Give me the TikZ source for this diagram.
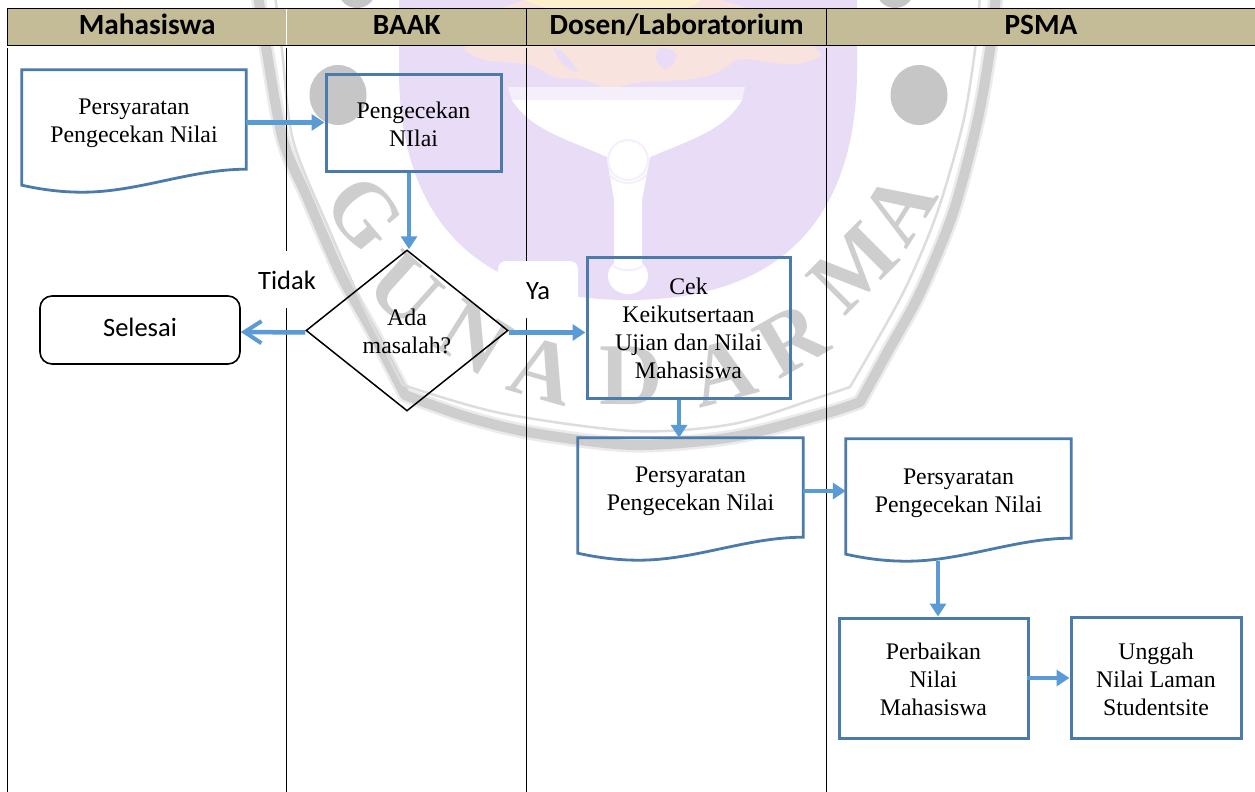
\documentclass[tikz,border=0pt]{standalone}
\usepackage{fontspec}
\setmainfont{Liberation Serif}
\newfontfamily\calib{Carlito}
\usetikzlibrary{arrows.meta,calc,shapes.geometric}
\definecolor{headfill}{HTML}{C4BC96}
\definecolor{boxblue}{HTML}{4A7BAA}
\definecolor{flowblue}{HTML}{5B9BD5}
\definecolor{wmpurple}{HTML}{E9DCF7}
\definecolor{wmpale}{HTML}{F5EFFB}
\definecolor{wmgrey}{HTML}{CECECE}
\definecolor{wmhalo}{HTML}{EBEBEB}
\definecolor{wmdot}{HTML}{C6C6C6}
\definecolor{wmorange}{HTML}{F9E3DE}
\definecolor{wmyellow}{HTML}{FBF1CE}
\tikzset{
  headcell/.style={fill=headfill,minimum height=37pt,inner sep=0pt,text height=20pt,text depth=6pt,font=\calib\bfseries\fontsize{29.3}{32}\selectfont},
  laneline/.style={black,line width=1.1pt},
  bodytext/.style={align=center,inner sep=0pt,font=\fontsize{23.8}{28}\selectfont},
  bluebox/.style={draw=boxblue,line width=3pt,inner sep=0pt},
  docbody/.style={inner sep=0pt},
  docline/.style={draw=boxblue,line width=2.8pt,line join=miter},
  decision/.style={draw=black,line width=1.5pt,shape=diamond,inner sep=0pt,shape aspect=1.25,minimum width=202pt,minimum height=161pt},
  endbox/.style={draw=black,line width=1.6pt,rounded corners=12pt,inner sep=0pt,text depth=6pt,font=\calib\fontsize{26.5}{30}\selectfont},
  tagbox/.style={fill=white,rounded corners=8pt,inner sep=0pt,text height=21pt,font=\calib\fontsize{26.5}{30}\selectfont},
  flow/.style={draw=flowblue,line width=4.5pt,-{Triangle[length=13pt,width=16pt]}},
  flowopen/.style={draw=flowblue,line width=4.5pt,-{Straight Barb[length=17pt,width=22pt,line width=4pt]}},
  wmletter/.style={text=wmgrey,inner sep=0pt,font=\bfseries\fontsize{88}{92}\selectfont},
  wmcut/.style={draw=wmpale,line width=2pt}
}
\newcommand{\docpath}[1]{%
  \path[docline] (#1.north west) -- (#1.north east) -- (#1.south east)
    .. controls ($(#1.south west)!0.75!(#1.south east)$) and ($(#1.south west)!0.52!(#1.south east)+(0,23)$) .. ($(#1.south west)!0.27!(#1.south east)+(0,23)$)
    .. controls ($(#1.south west)!0.17!(#1.south east)+(0,23)$) and ($(#1.south west)!0.08!(#1.south east)+(0,20)$) .. ($(#1.south west)+(0,16)$)
    -- cycle;}
\newcommand{\ringthick}{%
  plot[smooth] coordinates {(258,-5)(267,53)(283,140)(307,197)(340,273)(373,333)(405,395)}
  plot[smooth] coordinates {(405,395)(467,417)(533,433)(633,445)(733,437)(827,413)(860,402)}
  plot[smooth] coordinates {(860,402)(887,353)(920,293)(953,213)(977,123)(990,50)(996,-5)}}
\newcommand{\ringthin}{%
  plot[smooth] coordinates {(275,-5)(282,50)(293,140)(328,227)(365,310)(403,385)}
  plot[smooth] coordinates {(403,385)(500,413)(633,431)(733,424)(820,397)(850,387)}
  plot[smooth] coordinates {(850,387)(903,293)(937,213)(963,123)(975,50)(980,-5)}}
\begin{document}
\begin{tikzpicture}[x=1pt,y=-1pt]
\useasboundingbox (0,0) rectangle (1255,792);
\fill[white] (0,0) rectangle (1255,792);
% watermark: emblem
\fill[wmpurple] (399,0) -- (399,70) .. controls (399,190) and (450,300) .. (628,300) .. controls (806,300) and (857,190) .. (857,70) -- (857,0) -- cycle;
\fill[wmorange] (464,50) .. controls (480,10) and (520,0) .. (530,0) -- (720,0) .. controls (760,10) and (800,30) .. (822,55) .. controls (790,75) and (760,55) .. (735,60) .. controls (700,95) and (640,70) .. (610,92) .. controls (580,70) and (560,85) .. (545,72) .. controls (520,55) and (490,70) .. (464,50) -- cycle;
\fill[wmyellow] (525,0) -- (700,0) .. controls (690,20) and (560,20) .. (525,0) -- cycle;
\fill[wmpurple] (553,48) .. controls (565,50) and (570,60) .. (578,72) .. controls (565,70) and (558,60) .. (553,48) -- cycle;
\fill[wmpurple] (660,48) .. controls (680,48) and (682,60) .. (665,70) .. controls (655,62) and (652,55) .. (660,48) -- cycle;
% cup and stem
\fill[wmpale] (508,87) -- (745,87) -- (742,100) -- (512,100) -- cycle;
\fill[white] (512,100) -- (742,100) .. controls (725,130) and (690,140) .. (650,157) -- (642,200) -- (642,265) -- (614,265) -- (614,200) -- (607,157) .. controls (570,140) and (530,130) .. (512,100) -- cycle;
\fill[white] (628,160) circle[radius=20];
\fill[white] (628,276) ellipse[x radius=20,y radius=18];
\draw[wmcut] (628,160) circle[radius=20];
\draw[wmcut] (609,174) .. controls (618,186) and (638,186) .. (647,174);
\draw[wmcut] (612,265) .. controls (620,272) and (636,272) .. (644,265);
% watermark: ring
\draw[wmhalo,line width=15pt,line cap=round] \ringthick;
\draw[wmgrey,line width=10pt,line cap=round] \ringthick;
\draw[wmgrey!70!white,line width=2.5pt,line cap=round] \ringthin;
% dots
\fill[wmdot] (338,95) ellipse[x radius=28.5,y radius=30];
\fill[wmdot] (919,95) ellipse[x radius=28.5,y radius=30];
\fill[wmdot] (357,-8) ellipse[x radius=18,y radius=16];
\fill[wmdot] (895,-8) ellipse[x radius=18,y radius=16];
% letters
\node[wmletter,rotate=-50] (wg) at (364,213) {G};
\node[wmletter,rotate=-42] (wu) at (405,290) {U};
\node[wmletter,rotate=-32] (wn) at (474,338) {N};
\node[wmletter,rotate=-16] (wa) at (543,370) {A};
\node[wmletter] (wd) at (631,376) {D};
\node[wmletter,rotate=15] (wb) at (723,372) {A};
\node[wmletter,rotate=30] (wr) at (792,340) {R};
\node[wmletter,rotate=45] (wm) at (853,268) {M};
\node[wmletter,rotate=58] (wc) at (899,208) {A};
% header
\node[headcell,minimum width=279pt,anchor=north west] (hm) at (7.5,8.5) {Mahasiswa};
\node[headcell,minimum width=240pt,anchor=north west] (hb) at (286.5,8.5) {BAAK};
\node[headcell,minimum width=300pt,anchor=north west] (hd) at (526.5,8.5) {Dosen/Laboratorium};
\node[headcell,minimum width=428.5pt,anchor=north west] (hp) at (826.5,8.5) {PSMA};
\draw[laneline] (hm.north west) -- (hp.north east);
\draw[laneline] (hm.south west) -- (hp.south east);
\draw[laneline] (hm.north west) -- (hm.south west);
\draw[white,line width=1.5pt] ([yshift=-.7pt]hb.north west) -- ([yshift=.7pt]hb.south west);
\draw[laneline] (hd.north west) -- (hd.south west);
\draw[laneline] (hp.north west) -- (hp.south west);
% lanes
\coordinate (l1) at (7.5,792); \coordinate (l2) at (286.5,792); \coordinate (l3) at (526.5,792); \coordinate (l4) at (826.5,792);
\draw[laneline] ([yshift=-2pt]hm.south west) -- (l1);
\draw[laneline] ([yshift=-2pt]hb.south west) -- (l2);
\draw[laneline] ([yshift=-2pt]hd.south west) -- (l3);
\draw[laneline] ([yshift=-2pt]hp.south west) -- (l4);
% labels
\node[tagbox,minimum width=76pt,minimum height=57pt] (tidak) at (287,279.5) {Tidak};
\node[tagbox,minimum width=80pt,minimum height=57pt] (ya) at (538,289.5) {Ya};
% nodes
\node[docbody,minimum width=224pt,minimum height=99pt] (doc1) at (134,119.5) {};
\docpath{doc1}
\node[bodytext] (doc1t) at ([yshift=-4pt]doc1.center) {Persyaratan\\Pengecekan Nilai};
\node[bluebox,minimum width=175pt,minimum height=97pt] (box2) at (413.5,122.5) {};
\node[bodytext] (box2t) at ([yshift=-2pt]box2.center) {Pengecekan\\NIlai};
\node[decision] (dia) at (407,330.5) {};
\node[bodytext] (diat) at (407,331) {Ada\\masalah?};
\node[endbox,minimum width=200pt,minimum height=68pt] (sel) at (140,330) {Selesai};
\node[bluebox,minimum width=203pt,minimum height=141pt] (box3) at (688.5,327.5) {};
\node[bodytext] (box3t) at ([yshift=-1pt]box3.center) {Cek\\Keikutsertaan\\Ujian dan Nilai\\Mahasiswa};
\node[docbody,minimum width=225pt,minimum height=99pt] (doc2) at (690.5,487.5) {};
\docpath{doc2}
\node[bodytext] (doc2t) at ([yshift=-4pt]doc2.center) {Persyaratan\\Pengecekan Nilai};
\node[docbody,minimum width=225pt,minimum height=99pt] (doc3) at (958.5,488.5) {};
\docpath{doc3}
\node[bodytext] (doc3t) at ([yshift=-5pt]doc3.center) {Persyaratan\\Pengecekan Nilai};
\node[bluebox,minimum width=189pt,minimum height=120pt] (box4) at (933.5,678) {};
\node[bodytext] (box4t) at ([yshift=-1pt]box4.center) {Perbaikan\\Nilai\\Mahasiswa};
\node[bluebox,minimum width=170pt,minimum height=121pt] (box5) at (1156,677.5) {};
\node[bodytext] (box5t) at ([yshift=-2pt]box5.center) {Unggah\\Nilai Laman\\Studentsite};
% connectors
\draw[flow] (doc1.east |- box2.west) -- (box2.west);
\draw[flow] ([xshift=2pt]box2.south -| dia.north) -- ([xshift=2pt]dia.north);
\draw[flowopen] ([yshift=-2pt]dia.west) -- ([yshift=-2pt]sel.east);
\draw[flow] ([yshift=-2pt]dia.east) -- ([yshift=-2pt]dia.east -| box3.west);
\coordinate (c34) at (679,0);
\draw[flow,line width=3.6pt] (box3.south -| c34) -- (doc2.north -| c34);
\coordinate (c45) at (0,491);
\draw[flow] (doc2.east |- c45) -- (doc3.west |- c45);
\coordinate (c56a) at (938,561);
\draw[flow] (c56a) -- (c56a |- box4.north);
\draw[flow] ([xshift=-3pt]box4.east) -- (box5.west |- box4.east);
\end{tikzpicture}
\end{document}
